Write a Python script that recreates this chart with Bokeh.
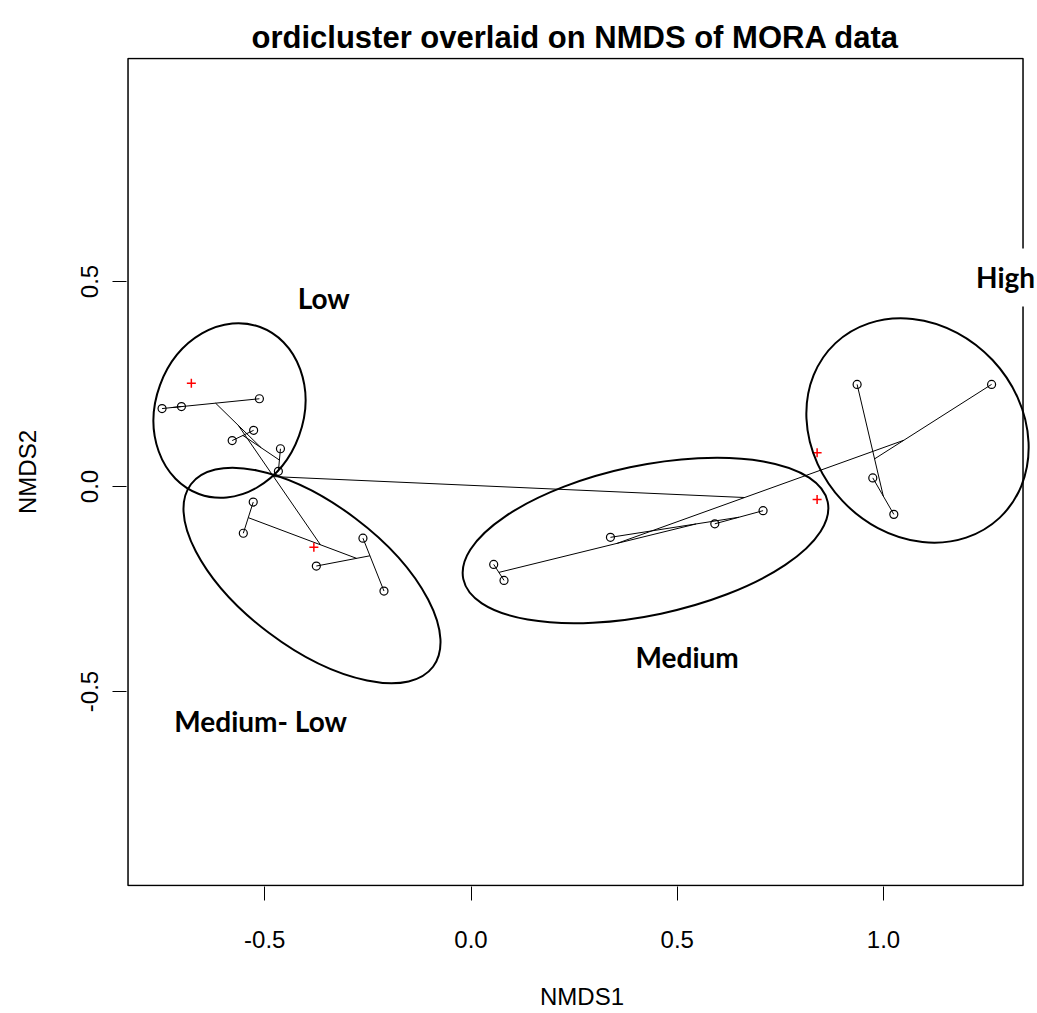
import numpy as np
from bokeh.plotting import figure
from bokeh.models import Range1d, Label, FixedTicker, PrintfTickFormatter
from bokeh.embed import file_html
from bokeh.resources import INLINE

# ---- site scores (NMDS1, NMDS2) ----
site_x = [-0.749, -0.702, -0.513, -0.579, -0.527, -0.462, -0.467,
          -0.528, -0.552, -0.375, -0.262, -0.211,
          0.055, 0.080, 0.338, 0.591, 0.708,
          0.936, 1.262, 0.974, 1.025]
site_y = [0.190, 0.195, 0.214, 0.112, 0.137, 0.092, 0.037,
          -0.038, -0.114, -0.194, -0.126, -0.255,
          -0.190, -0.229, -0.124, -0.091, -0.059,
          0.249, 0.249, 0.021, -0.068]
# number of (coincident) samples at each plotted site
site_n = [1, 1, 2, 1, 1, 1, 1,
          1, 1, 1, 2, 1,
          1, 1, 1, 1, 1,
          1, 1, 1, 1]

# ---- species scores (red +) ----
species_x = [-0.678, -0.381, 0.839, 0.839]
species_y = [0.252, -0.148, 0.082, -0.032]

# ---- hclust merge table (negative = site, positive = earlier merge) ----
merge_a = [-1, 1, -4, -6, 3, 2, -8, -11, -10, 7, 6, -13, -16, -15, 12, -20, -18, -19, 15, 11]
merge_b = [-2, -3, -5, -7, 4, 5, -9, -12, 8, 9, 10, -14, -17, 13, 14, -21, 16, 17, 18, 19]

# ---- group ellipses ----
ell_x = [-0.5855, -0.3855, 0.4230, 1.0824]
ell_y = [0.1854, -0.2171, -0.1317, 0.1366]
ell_w = [0.431, 0.735, 0.903, 0.581]
ell_h = [0.361, 0.350, 0.365, 0.502]
ell_angle = [1.22, -0.646, 0.209, -0.817]

# ---- group labels ----
group_names = ["Low", "Medium- Low", "Medium", "High"]
group_x = [-0.357, -0.510, 0.524, 1.296]
group_y = [0.459, -0.571, -0.417, 0.510]

x_ticks = [-0.5, 0.0, 0.5, 1.0]
y_ticks = [-0.5, 0.0, 0.5]

# plot box (the R plot region)
box_x = [-0.8315, 1.3382]
box_y = [-0.9732, 1.0439]

# ---- ordicluster: segments between the two merged cluster centroids ----
gx, gy, gn = [], [], []
x0, y0, x1, y1 = [], [], [], []


def member(k):
    if k < 0:
        return site_x[-k - 1], site_y[-k - 1], site_n[-k - 1]
    return gx[k - 1], gy[k - 1], gn[k - 1]


for a, b in zip(merge_a, merge_b):
    xa, ya, na = member(a)
    xb, yb, nb = member(b)
    x0.append(xa); y0.append(ya); x1.append(xb); y1.append(yb)
    gx.append((na * xa + nb * xb) / (na + nb))
    gy.append((na * ya + nb * yb) / (na + nb))
    gn.append(na + nb)

FONT = "Liberation Sans"

p = figure(width=1037, height=1013,
           x_range=Range1d(-0.8352, 1.3733), y_range=Range1d(-0.9756, 1.0463),
           output_backend="svg", toolbar_location=None,
           min_border_left=126, min_border_right=0,
           min_border_top=57, min_border_bottom=127)

p.title.text = "ordicluster overlaid on NMDS of MORA data"
p.title.align = "left"
p.title.offset = 125
p.title.standoff = 6
p.title.text_font = FONT
p.title.text_font_size = "31px"
p.title.text_font_style = "bold"
p.title.text_color = "black"

p.grid.visible = False
p.outline_line_color = None

for ax in (p.xaxis, p.yaxis):
    ax.axis_line_color = None
    ax.major_tick_out = 14
    ax.major_tick_in = 0
    ax.minor_tick_line_color = None
    ax.major_tick_line_color = "black"
    ax.major_label_text_font = FONT
    ax.major_label_text_font_size = "24px"
    ax.major_label_text_color = "black"
    ax.axis_label_text_font = FONT
    ax.axis_label_text_font_size = "24px"
    ax.axis_label_text_font_style = "normal"
    ax.axis_label_text_color = "black"
    ax.formatter = PrintfTickFormatter(format="%.1f")

p.xaxis.ticker = FixedTicker(ticks=x_ticks)
p.yaxis.ticker = FixedTicker(ticks=y_ticks)
p.xaxis.axis_label = "NMDS1"
p.yaxis.axis_label = "NMDS2"
p.xaxis.major_label_standoff = 30
p.xaxis.axis_label_standoff = 32
p.yaxis.major_label_orientation = "vertical"
p.yaxis.major_label_standoff = 14
p.yaxis.axis_label_standoff = 38

# plot box
p.quad(left=[box_x[0]], right=[box_x[1]], bottom=[box_y[0]], top=[box_y[1]],
       fill_color=None, line_color="black", line_width=1.5)

# dendrogram segments
p.segment(x0=x0, y0=y0, x1=x1, y1=y1, line_color="black", line_width=1)

# sites
p.scatter(site_x, site_y, marker="circle", size=8, fill_color=None,
          line_color="black", line_width=1.2)

# species
p.scatter(species_x, species_y, marker="cross", size=9, line_color="red",
          line_width=1.5)

# ellipses
p.ellipse(x=ell_x, y=ell_y, width=ell_w, height=ell_h, angle=ell_angle,
          fill_color=None, line_color="black", line_width=2)

for name, lx, ly in zip(group_names, group_x, group_y):
    p.add_layout(Label(x=lx, y=ly, text=name, text_align="center",
                       text_baseline="middle", text_font="Lato",
                       text_font_style="bold", text_font_size="28px",
                       text_color="black", padding=12,
                       background_fill_color="white" if name == "High" else None))

open("out.html", "w").write(file_html(p, INLINE))
